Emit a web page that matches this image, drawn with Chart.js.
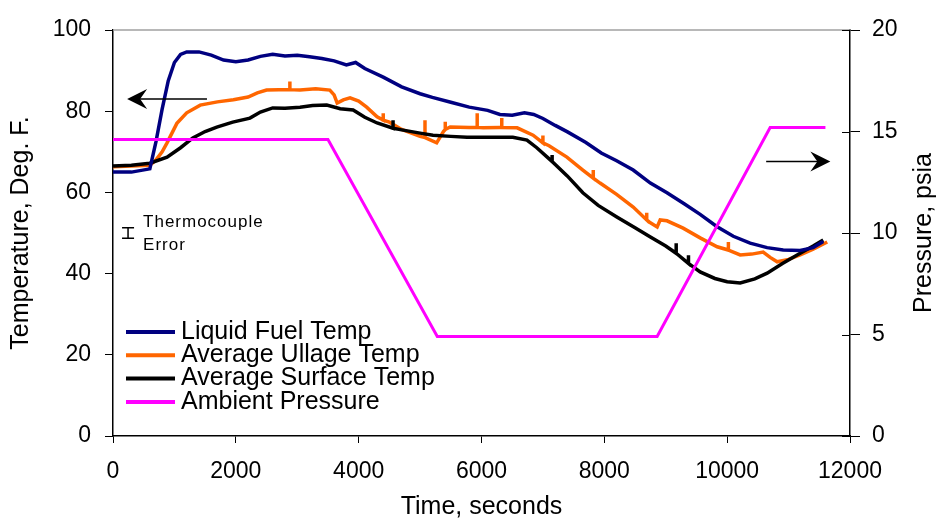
<!DOCTYPE html>
<html>
<head>
<meta charset="utf-8">
<title>Temperatures and ambient pressure</title>
<script src="https://cdn.jsdelivr.net/npm/chart.js@4.4.0/dist/chart.umd.min.js"></script>
<style>
  html, body { margin: 0; padding: 0; background: #fff; }
  #wrap { width: 939px; height: 529px; }
</style>
</head>
<body>
<div id="wrap"><canvas id="chart" width="939" height="529"></canvas></div>
<script>
// 曲线数据
const fuelTime = [0, 300, 600, 700, 800, 900, 1000, 1100, 1200, 1400,
  1600, 1800, 2000, 2200, 2400, 2600, 2800, 3000, 3200, 3400,
  3600, 3800, 3950, 4100, 4400, 4700, 5000, 5200, 5500, 5800,
  6100, 6300, 6500, 6700, 6850, 7000, 7200, 7400, 7700, 7950,
  8200, 8470, 8750, 9020, 9300, 9560, 9830, 10100, 10374, 10650,
  10912, 11189, 11400, 11564];
const fuelTemp = [65, 65, 65.8, 72.5, 80.5, 87.5, 92, 94, 94.6, 94.6,
  93.8, 92.6, 92.2, 92.6, 93.5, 94, 93.6, 93.8, 93.4, 93,
  92.4, 91.4, 92, 90.5, 88.4, 86, 84.3, 83.4, 82.2, 81,
  80.2, 79.2, 79, 79.6, 79.2, 78.2, 76.5, 74.9, 72.3, 69.7,
  67.8, 65.5, 62.3, 59.9, 57.2, 54.6, 51.6, 49.2, 47.5, 46.4,
  45.8, 45.7, 46.4, 47.9];

// 竖直的小尖刺用同一时间点重复三次表示
const ullageTime = [0, 300, 600, 700, 800, 880, 1040, 1200, 1420, 1700,
  1960, 2200, 2350, 2500, 2700, 2880, 2880, 2880, 3045, 3300,
  3530, 3600, 3650, 3750, 3860, 4000, 4130, 4300, 4400, 4400,
  4400, 4500, 4700, 5000, 5080, 5080, 5080, 5270, 5380, 5410,
  5410, 5410, 5490, 5800, 5930, 5930, 5930, 6030, 6300, 6330,
  6330, 6330, 6580, 6840, 7000, 7000, 7000, 7100, 7390, 7650,
  7820, 7820, 7820, 7930, 8200, 8470, 8690, 8690, 8690, 8750,
  8860, 8909, 9020, 9283, 9560, 9837, 10020, 10020, 10020, 10212,
  10400, 10586, 10700, 10814, 11000, 11189, 11400, 11629];
const ullageTemp = [66.3, 66.5, 66.7, 68, 70, 72.2, 77, 79.6, 81.5, 82.3,
  82.8, 83.5, 84.5, 85.2, 85.3, 85.3, 87.3, 85.3, 85.2, 85.5,
  85.2, 84, 82, 82.8, 83.3, 82.5, 81, 78.6, 77.8, 79.5,
  77.8, 77.3, 75.5, 73.8, 73.5, 77.8, 73.5, 72.2, 75, 75.5,
  77.4, 75.5, 76.1, 76, 76, 79.5, 76, 75.9, 76, 76,
  78.3, 76, 75.9, 74.1, 72.2, 74, 72.2, 71.5, 68.7, 65.5,
  63.5, 65.5, 63.5, 62.3, 59.5, 56.4, 53.2, 55, 53.2, 52.5,
  51.5, 53.2, 53, 51.2, 48.8, 46.6, 45.8, 47.8, 45.8, 44.6,
  44.8, 45.3, 44, 42.9, 43.5, 44.6, 46, 47.8];

const surfaceTime = [0, 300, 600, 880, 1100, 1300, 1500, 1690, 1950, 2230,
  2400, 2600, 2800, 3045, 3250, 3480, 3700, 3910, 4100, 4300,
  4560, 4560, 4560, 4700, 5000, 5210, 5500, 5765, 6100, 6510,
  6740, 6900, 7120, 7150, 7150, 7150, 7400, 7650, 7900, 8210,
  8500, 8750, 9000, 9170, 9170, 9170, 9370, 9370, 9370, 9560,
  9800, 10000, 10212, 10450, 10651, 10900, 11189, 11400, 11564];
const surfaceTemp = [66.5, 66.7, 67.2, 68.7, 71, 73.4, 75, 76.1, 77.3, 78.3,
  79.8, 80.8, 80.7, 81, 81.4, 81.5, 80.6, 80.3, 78.5, 77.1,
  75.8, 77.8, 75.8, 75.4, 74.6, 74.1, 73.8, 73.6, 73.6, 73.6,
  72.9, 71, 68, 67.6, 69.2, 67.6, 64, 59.9, 56.8, 53.9,
  51.3, 49, 46.8, 45, 47.5, 45, 42.5, 44.5, 42.5, 40.4,
  38.8, 38, 37.7, 38.7, 40.1, 42.5, 45, 46.8, 48.3];

const pressureTime = [0, 3500, 5280, 8860, 10700, 11600];
const pressureValue = [14.6, 14.6, 4.9, 4.9, 15.2, 15.2];

const seriesNames = ['Liquid Fuel Temp', 'Average Ullage Temp', 'Average Surface Temp', 'Ambient Pressure'];
const xTicks = [0, 2000, 4000, 6000, 8000, 10000, 12000];

// 注释（箭头、误差棒）用数据坐标表示
const leftArrow = { from: 1530, to: 230, temp: 83 };
const rightArrow = { from: 10635, to: 11680, temp: 67.6 };
const errorBar = { time: 245, temp: 50, half: 1.3 };

const FONT = '"Liberation Sans", Arial, sans-serif';
Chart.defaults.font.family = FONT;
Chart.defaults.color = '#000';

function toPoints(ts, vs) {
  return ts.map((t, i) => ({ x: t, y: vs[i] }));
}

function drawArrow(ctx, x1, x2, y) {
  const dir = Math.sign(x2 - x1);
  ctx.lineWidth = 1.5;
  ctx.beginPath();
  ctx.moveTo(x1, y);
  ctx.lineTo(x2 - dir * 12, y);
  ctx.stroke();
  ctx.beginPath();
  ctx.moveTo(x2, y);
  ctx.lineTo(x2 - dir * 20, y - 10);
  ctx.lineTo(x2 - dir * 13, y);
  ctx.lineTo(x2 - dir * 20, y + 10);
  ctx.closePath();
  ctx.fill();
}

const overlay = {
  id: 'overlay',
  afterDatasetsDraw(chart) {
    const { ctx, chartArea: a, scales } = chart;
    const xs = scales.x, ys = scales.y, y1 = scales.y1;
    ctx.save();

    // 顶部灰色边框
    ctx.strokeStyle = '#a0a0a0';
    ctx.lineWidth = 1.5;
    ctx.beginPath();
    ctx.moveTo(a.left, a.top);
    ctx.lineTo(a.right, a.top);
    ctx.stroke();

    // 右轴刻度向内的一半
    ctx.strokeStyle = '#000';
    ctx.lineWidth = 1;
    y1.ticks.forEach(t => {
      const py = Math.round(y1.getPixelForValue(t.value)) + 0.5;
      ctx.beginPath();
      ctx.moveTo(a.right - 8, py);
      ctx.lineTo(a.right, py);
      ctx.stroke();
    });

    // 右轴标题（和左轴一样从下往上读）
    ctx.fillStyle = '#000';
    ctx.font = '25px ' + FONT;
    ctx.textAlign = 'center';
    ctx.textBaseline = 'middle';
    ctx.save();
    ctx.translate(924, (a.top + a.bottom) / 2);
    ctx.rotate(-Math.PI / 2);
    ctx.fillText('Pressure, psia', 0, 0);
    ctx.restore();

    // 箭头
    ctx.fillStyle = '#000';
    ctx.strokeStyle = '#000';
    drawArrow(ctx, xs.getPixelForValue(leftArrow.from), xs.getPixelForValue(leftArrow.to), ys.getPixelForValue(leftArrow.temp));
    drawArrow(ctx, xs.getPixelForValue(rightArrow.from), xs.getPixelForValue(rightArrow.to), ys.getPixelForValue(rightArrow.temp));

    // 热电偶误差棒
    const ex = xs.getPixelForValue(errorBar.time);
    const eTop = ys.getPixelForValue(errorBar.temp + errorBar.half);
    const eBot = ys.getPixelForValue(errorBar.temp - errorBar.half);
    ctx.lineWidth = 1.5;
    ctx.beginPath();
    ctx.moveTo(ex, eTop); ctx.lineTo(ex, eBot);
    ctx.moveTo(ex - 6, eTop); ctx.lineTo(ex + 6, eTop);
    ctx.moveTo(ex - 6, eBot); ctx.lineTo(ex + 6, eBot);
    ctx.stroke();

    ctx.font = '17px ' + FONT;
    ctx.letterSpacing = '1px';
    ctx.textAlign = 'left';
    ctx.textBaseline = 'middle';
    ctx.fillText('Thermocouple', ex + 15, (eTop + eBot) / 2 - 11);
    ctx.fillText('Error', ex + 15, (eTop + eBot) / 2 + 12);
    ctx.letterSpacing = '0px';

    // 手写图例
    ctx.font = '25px ' + FONT;
    chart.data.datasets.forEach(ds => {
      const row = seriesNames.indexOf(ds.label);
      const y = a.top + 302 + row * 23.3;
      ctx.strokeStyle = ds.borderColor;
      ctx.lineWidth = 4;
      ctx.beginPath();
      ctx.moveTo(a.left + 13, y);
      ctx.lineTo(a.left + 62, y);
      ctx.stroke();
      ctx.fillStyle = '#000';
      ctx.fillText(ds.label, a.left + 68, y);
    });

    ctx.restore();
  }
};

const lineStyle = { pointRadius: 0, borderWidth: 3.5, tension: 0, fill: false };

new Chart(document.getElementById('chart'), {
  type: 'line',
  data: {
    datasets: [
      Object.assign({ label: seriesNames[3], data: toPoints(pressureTime, pressureValue), borderColor: '#FF00FF', yAxisID: 'y1', order: 0 }, lineStyle, { borderWidth: 3 }),
      Object.assign({ label: seriesNames[0], data: toPoints(fuelTime, fuelTemp), borderColor: '#000080', yAxisID: 'y', order: 1 }, lineStyle),
      Object.assign({ label: seriesNames[2], data: toPoints(surfaceTime, surfaceTemp), borderColor: '#000000', yAxisID: 'y', order: 2 }, lineStyle),
      Object.assign({ label: seriesNames[1], data: toPoints(ullageTime, ullageTemp), borderColor: '#FF6600', yAxisID: 'y', order: 3 }, lineStyle)
    ]
  },
  options: {
    responsive: false,
    animation: false,
    devicePixelRatio: 1,
    layout: { padding: { top: 30, left: 0, right: 0, bottom: 0 } },
    plugins: { legend: { display: false }, tooltip: { enabled: false } },
    scales: {
      x: {
        type: 'linear',
        min: 0,
        max: 12000,
        afterBuildTicks: s => { s.ticks = xTicks.map(v => ({ value: v })); },
        ticks: { font: { size: 23 }, padding: 15, maxRotation: 0, autoSkip: false, callback: v => String(v) },
        grid: { drawOnChartArea: false, drawTicks: true, tickLength: 7, color: '#000' },
        border: { display: true, color: '#000', width: 1.5 },
        title: { display: true, text: 'Time, seconds', font: { size: 25 }, padding: { top: 0, bottom: 7 } },
        afterFit: s => { s.height = 93; }
      },
      y: {
        position: 'left',
        min: 0,
        max: 100,
        ticks: { stepSize: 20, font: { size: 23 }, padding: 14 },
        grid: { drawOnChartArea: false, drawTicks: true, tickLength: 8, color: '#000' },
        border: { display: true, color: '#000', width: 1.5 },
        title: { display: true, text: 'Temperature, Deg. F.', font: { size: 25 }, padding: { top: 6, bottom: 0 } },
        afterFit: s => { s.width = 113; }
      },
      y1: {
        position: 'right',
        min: 0,
        max: 20,
        ticks: { stepSize: 5, font: { size: 23 }, padding: 12 },
        grid: { drawOnChartArea: false, drawTicks: true, tickLength: 10, color: '#000' },
        border: { display: true, color: '#000', width: 1.5 },
        title: { display: false },
        afterFit: s => { s.width = 89; }
      }
    }
  },
  plugins: [overlay]
});
</script>
</body>
</html>
